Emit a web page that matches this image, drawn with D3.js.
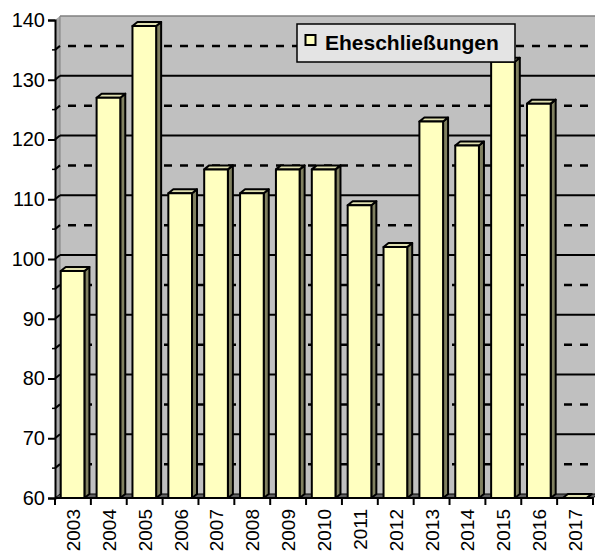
<!DOCTYPE html>
<html><head><meta charset="utf-8">
<script src="https://cdn.jsdelivr.net/npm/d3@7"></script>
<style>body{margin:0;background:#fff}svg{display:block}</style>
</head><body>
<script>
const categories = ["2003","2004","2005","2006","2007","2008","2009","2010","2011","2012","2013","2014","2015","2016","2017"];
const values = [98,127,139,111,115,111,115,115,109,102,123,119,133,126,0];
const seriesName = "Eheschließungen";
const majorTicks = [60,70,80,90,100,110,120,130,140];
const minorTicks = [65,75,85,95,105,115,125,135];

const W = 595, H = 557;
const FONT = "'Liberation Sans', Arial, sans-serif";
const svg = d3.select("body").append("svg").attr("width", W).attr("height", H);
const dx = 5, dy = 4;
const x = d3.scaleBand().domain(categories).range([55, 593]).padding(0);
const y = d3.scaleLinear().domain([60, 140]).range([498, 20]);
const bw = x.bandwidth();
const x0 = 55, x1 = 593, yb = y(60), yt = y(140);

// back wall
svg.append("polygon").attr("points", [[x0+dx,yt-dy],[x1+dx,yt-dy],[x1+dx,yb-dy],[x0+dx,yb-dy]].join(" "))
  .attr("fill", "#c0c0c0");
// side wall
svg.append("polygon").attr("points", [[x0,yt],[x0+dx,yt-dy],[x0+dx,yb-dy],[x0,yb]].join(" "))
  .attr("fill", "#a8a8a8");
svg.append("line").attr("x1", x0+dx).attr("x2", x1+dx).attr("y1", yt-dy).attr("y2", yt-dy)
  .attr("stroke", "#808080").attr("stroke-width", 1.5);
svg.append("line").attr("x1", x0+dx).attr("x2", x0+dx).attr("y1", yt-dy).attr("y2", yb-dy)
  .attr("stroke", "#808080").attr("stroke-width", 1);

// gridlines
const g = svg.append("g");
majorTicks.filter(v => v > 60 && v < 140).forEach(v => {
  g.append("line").attr("x1", x0+dx).attr("x2", x1+dx).attr("y1", y(v)-dy).attr("y2", y(v)-dy)
    .attr("stroke", "#000").attr("stroke-width", 2);
  g.append("line").attr("x1", x0).attr("x2", x0+dx).attr("y1", y(v)).attr("y2", y(v)-dy)
    .attr("stroke", "#000").attr("stroke-width", 2);
});
minorTicks.forEach(v => {
  g.append("line").attr("x1", x0+dx+8).attr("x2", x1+dx).attr("y1", y(v)-dy).attr("y2", y(v)-dy)
    .attr("stroke", "#000").attr("stroke-width", 2.5).attr("stroke-dasharray", "8,8");
  g.append("line").attr("x1", x0).attr("x2", x0+dx).attr("y1", y(v)).attr("y2", y(v)-dy)
    .attr("stroke", "#000").attr("stroke-width", 2);
});

// floor
svg.append("polygon").attr("points", [[x0,yb],[x0+dx,yb-dy],[x1+dx,yb-dy],[x1,yb]].join(" "))
  .attr("fill", "#606060").attr("stroke", "#000").attr("stroke-width", 1);

// bars
const bars = svg.append("g");
categories.forEach((c, i) => {
  const v = Math.max(values[i], 60);
  const bx = x(c) + bw * 0.16, w = bw * 0.66;
  const top = y(v);
  const st = {stroke: "#000", "stroke-width": 2, "stroke-linejoin": "round"};
  const side = bars.append("polygon").attr("points", [[bx+w,top],[bx+w+dx,top-dy],[bx+w+dx,yb-dy],[bx+w,yb]].join(" ")).attr("fill", "#808060");
  const tp = bars.append("polygon").attr("points", [[bx,top],[bx+dx,top-dy],[bx+w+dx,top-dy],[bx+w,top]].join(" ")).attr("fill", "#e0e0b0");
  const fr = bars.append("rect").attr("x", bx).attr("y", top).attr("width", w).attr("height", yb - top).attr("fill", "#ffffc0");
  [side, tp, fr].forEach(s => Object.entries(st).forEach(([k, val]) => s.attr(k, val)));
});

// y axis
const ya = svg.append("g").attr("transform", `translate(${x0},0)`)
  .call(d3.axisLeft(y).tickValues(majorTicks).tickSize(7).tickPadding(3).tickFormat(d3.format("d")));
ya.select(".domain").attr("stroke", "#000").attr("stroke-width", 2);
ya.selectAll(".tick line").attr("stroke", "#000").attr("stroke-width", 2);
ya.selectAll("text").attr("font-family", FONT).attr("font-size", 20).attr("fill", "#000");
ya.append("g").selectAll("line").data(minorTicks).join("line")
  .attr("x1", -3).attr("x2", 0).attr("y1", d => y(d)).attr("y2", d => y(d)).attr("stroke", "#000").attr("stroke-width", 1.5);

// x axis
const xa = svg.append("g").attr("transform", `translate(0,${yb})`);
xa.append("line").attr("x1", x0).attr("x2", x1).attr("y1", 0).attr("y2", 0).attr("stroke", "#000").attr("stroke-width", 2);
xa.selectAll(".tk").data(categories.concat(["_end"])).join("line")
  .attr("x1", (d, i) => x0 + i * bw).attr("x2", (d, i) => x0 + i * bw).attr("y1", 0).attr("y2", 7)
  .attr("stroke", "#000").attr("stroke-width", 2);
xa.selectAll("text").data(categories).join("text")
  .attr("transform", d => `translate(${x(d) + bw / 2 + 7},11) rotate(-90)`)
  .attr("text-anchor", "end")
  .attr("font-family", FONT).attr("font-size", 19).attr("fill", "#000")
  .text(d => d);

// legend
const lg = svg.append("g");
lg.append("rect").attr("x", 297).attr("y", 24).attr("width", 218).attr("height", 38)
  .attr("fill", "#e4e4e4").attr("stroke", "#000").attr("stroke-width", 1.5);
lg.append("rect").attr("x", 305.5).attr("y", 35).attr("width", 10).attr("height", 10)
  .attr("fill", "#ffffc0").attr("stroke", "#000").attr("stroke-width", 2);
lg.append("text").attr("x", 325).attr("y", 50).attr("font-family", FONT)
  .attr("font-weight", "bold").attr("font-size", 21).attr("fill", "#000").text(seriesName);
</script>
</body></html>
